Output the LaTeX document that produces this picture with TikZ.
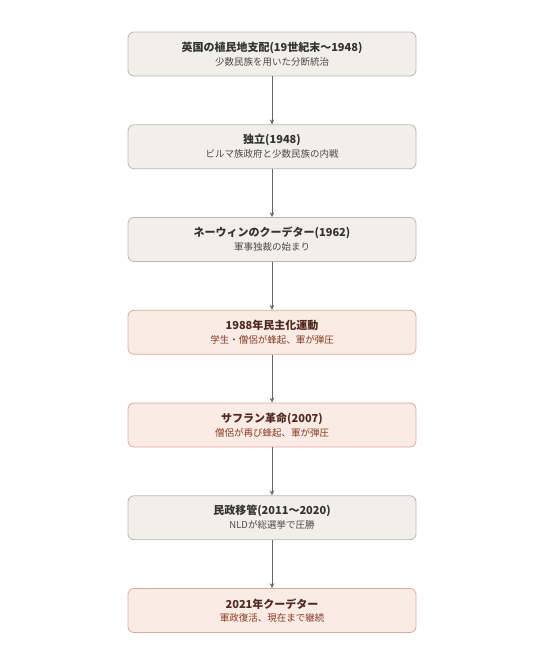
\documentclass[tikz,border=0pt]{standalone}
\usepackage{fontspec}
\setmainfont{Noto Sans CJK JP}
\usetikzlibrary{arrows.meta}

\definecolor{boxgray}{HTML}{F1EFE9}
\definecolor{linegray}{HTML}{BCB8B0}
\definecolor{boxpink}{HTML}{FBEBE5}
\definecolor{linepink}{HTML}{DEAB99}
\definecolor{textdark}{HTML}{333333}
\definecolor{subgray}{HTML}{4A4A4A}
\definecolor{textbrown}{HTML}{4E2A1E}
\definecolor{subbrown}{HTML}{843B22}
\definecolor{arrowgray}{HTML}{666666}

\tikzset{
  era/.style={draw=linegray, fill=boxgray, rounded corners=6pt, line width=0.8pt,
    minimum width=288pt, minimum height=44pt, inner sep=0pt},
  crisis/.style={era, draw=linepink, fill=boxpink},
  head/.style={font=\bfseries\fontsize{11}{13}\selectfont, text=textdark, inner sep=0pt},
  sub/.style={font=\fontsize{9.5}{11}\selectfont, text=subgray, inner sep=0pt},
  headred/.style={head, text=textbrown},
  subred/.style={sub, text=subbrown},
  flow/.style={draw=arrowgray, line width=0.9pt, -{Stealth[length=5pt,width=4.5pt]}}
}

\begin{document}
\begin{tikzpicture}[x=1pt,y=-1pt]
\useasboundingbox (0,0) rectangle (544,665);
% Boxes
\node[era] (colony) at (272,54) {};
\node[era] (indep) at (272,146.75) {};
\node[era] (newin) at (272,239.5) {};
\node[crisis] (uprising) at (272,332.25) {};
\node[crisis] (saffron) at (272,425) {};
\node[era] (civil) at (272,517.75) {};
\node[crisis] (coup) at (272,610.5) {};
% Titles and subtitles
\node[head] (colonyh) at ([yshift=6.5pt]colony.center) {英国の植民地支配(19世紀末～1948)};
\node[sub] (colonys) at ([yshift=-7.5pt]colony.center) {少数民族を用いた分断統治};
\node[head] (indeph) at ([yshift=6.5pt]indep.center) {独立(1948)};
\node[sub] (indeps) at ([yshift=-7.5pt]indep.center) {ビルマ族政府と少数民族の内戦};
\node[head] (newinh) at ([yshift=6.5pt]newin.center) {ネーウィンのクーデター(1962)};
\node[sub] (newins) at ([yshift=-7.5pt]newin.center) {軍事独裁の始まり};
\node[headred] (uprisingh) at ([yshift=6.5pt]uprising.center) {1988年民主化運動};
\node[subred] (uprisings) at ([yshift=-7.5pt]uprising.center) {学生・僧侶が蜂起、軍が弾圧};
\node[headred] (saffronh) at ([yshift=6.5pt]saffron.center) {サフラン革命(2007)};
\node[subred] (saffrons) at ([yshift=-7.5pt]saffron.center) {僧侶が再び蜂起、軍が弾圧};
\node[head] (civilh) at ([yshift=6.5pt]civil.center) {民政移管(2011～2020)};
\node[sub] (civils) at ([yshift=-7.5pt]civil.center) {NLDが総選挙で圧勝};
\node[headred] (couph) at ([yshift=6.5pt]coup.center) {2021年クーデター};
\node[subred] (coups) at ([yshift=-7.5pt]coup.center) {軍政復活、現在まで継続};
% Arrows
\draw[flow] (colony) -- (indep);
\draw[flow] (indep) -- (newin);
\draw[flow] (newin) -- (uprising);
\draw[flow] (uprising) -- (saffron);
\draw[flow] (saffron) -- (civil);
\draw[flow] (civil) -- (coup);
\end{tikzpicture}
\end{document}
